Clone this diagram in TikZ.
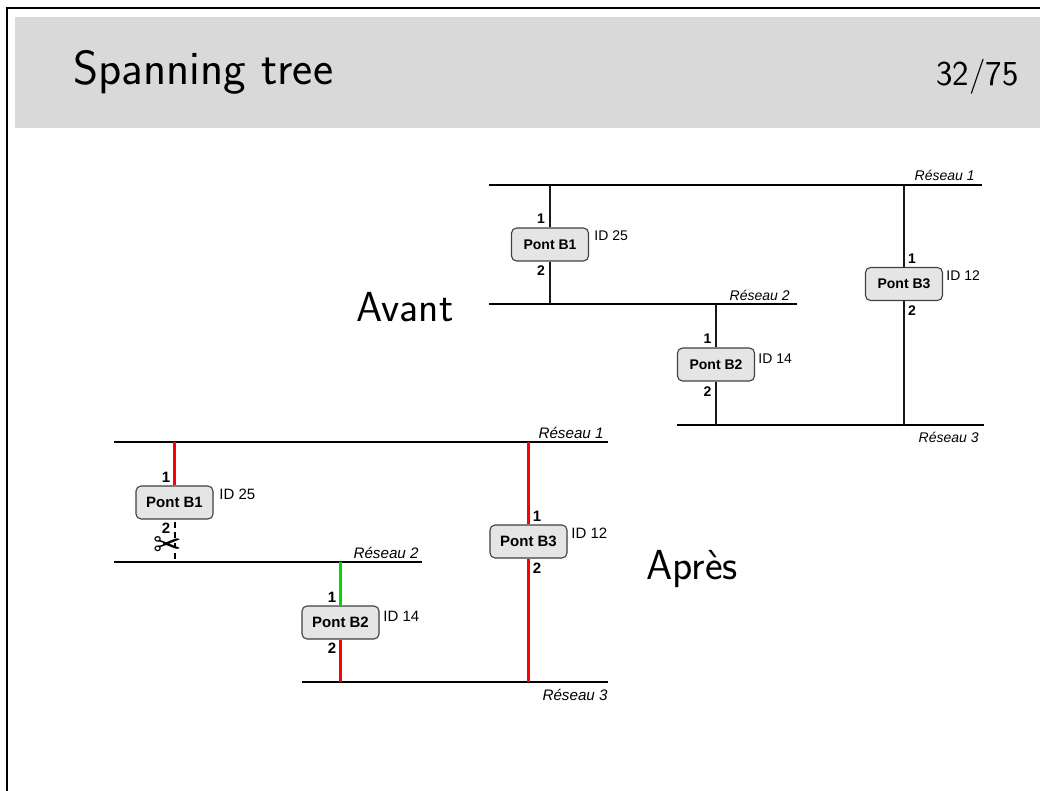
\documentclass[tikz,border=0pt]{standalone}
\usepackage{fontspec}
\setmainfont{Liberation Sans}
\newfontfamily\dejavu{DejaVu Sans}
\setsansfont{Latin Modern Sans}
\definecolor{headgray}{gray}{0.85}
\definecolor{boxgray}{gray}{0.9}
\definecolor{linkgreen}{rgb}{0,0.85,0}
\begin{document}
\begin{tikzpicture}[x=0.5pt, y=-0.5pt,
    bus/.style={line width=0.6pt},
    link/.style={line width=0.7pt, black!90},
    redlink/.style={line width=1.4pt, red},
    greenlink/.style={line width=1.4pt, linkgreen},
    pont/.style={draw=black!75, line width=0.55pt, fill=boxgray, rounded corners=2.5pt, minimum width=38.5pt, minimum height=16.5pt, inner sep=0pt, font=\fontsize{#1}{8}\selectfont\bfseries},
    port/.style={font=\fontsize{#1}{8}\selectfont\bfseries, inner sep=0pt},
    ident/.style={font=\fontsize{#1}{8}\selectfont, inner sep=0pt, anchor=west},
    reseau/.style={font=\fontsize{#1}{8}\selectfont\itshape, inner sep=0pt, anchor=east},
    big/.style={font=\sffamily\fontsize{21}{24}\selectfont, inner sep=0pt, anchor=base}]
        \useasboundingbox (0, 0) rectangle (1040, 791);

        \draw [line width=0.55pt] (1040, 8) -- (7, 8) -- (7, 791);
        \fill [headgray] (15, 17) rectangle (1040, 128);
        \node (title) at (73, 85) [anchor=base west, inner sep=0pt, font=\sffamily\fontsize{24}{28}\selectfont] {Spanning tree};
        \node (page) at (1019, 86) [anchor=base east, inner sep=0pt, font=\sffamily\fontsize{17.5}{20}\selectfont] {32/75};

        % Avant
        \node (avant) at (405, 322) [big] {Avant};
        \coordinate (aR1w) at (489, 185);
        \coordinate (aR1e) at (982, 185);
        \coordinate (aR2w) at (489, 304);
        \coordinate (aR2e) at (797, 304);
        \coordinate (aR3w) at (677, 425);
        \coordinate (aR3e) at (984, 425);
        \draw [bus] (aR1w) -- (aR1e);
        \draw [bus] (aR2w) -- (aR2e);
        \draw [bus] (aR3w) -- (aR3e);
        \node (aN1) at (975, 175) [reseau=7] {Réseau 1};
        \node (aN2) at (790, 295) [reseau=7] {Réseau 2};
        \node (aN3) at (979, 437) [reseau=7] {Réseau 3};

        \node (aB1) at (550, 244.5) [pont=7] {Pont B1};
        \node (aB2) at (716, 364.5) [pont=7] {Pont B2};
        \node (aB3) at (904, 284) [pont=7] {Pont B3};
        \draw [link] (aB1.north) -- (aB1.north |- aR1w);
        \draw [link] (aB1.south) -- (aB1.south |- aR2w);
        \draw [link] (aB2.north) -- (aB2.north |- aR2w);
        \draw [link] (aB2.south) -- (aB2.south |- aR3w);
        \draw [link] (aB3.north) -- (aB3.north |- aR1w);
        \draw [link] (aB3.south) -- (aB3.south |- aR3w);

        \node (aP11) at (541, 219) [port=7] {1};
        \node (aP12) at (541, 271) [port=7] {2};
        \node (aP21) at (707.5, 339) [port=7] {1};
        \node (aP22) at (707.5, 392) [port=7] {2};
        \node (aP31) at (912, 258.5) [port=7] {1};
        \node (aP32) at (912, 311) [port=7] {2};
        \node (aI1) at (594, 236) [ident=7] {ID 25};
        \node (aI2) at (758, 359) [ident=7] {ID 14};
        \node (aI3) at (946, 276) [ident=7] {ID 12};

        % Apres
        \node (apres) at (692, 579) [big] {Après};
        \coordinate (bR1w) at (114, 442);
        \coordinate (bR1e) at (608, 442);
        \coordinate (bR2w) at (114, 562);
        \coordinate (bR2e) at (422, 562);
        \coordinate (bR3w) at (302, 682);
        \coordinate (bR3e) at (608, 682);
        \draw [bus] (bR1w) -- (bR1e);
        \draw [bus] (bR2w) -- (bR2e);
        \draw [bus] (bR3w) -- (bR3e);
        \node (bN1) at (604, 433) [reseau=7.6] {Réseau 1};
        \node (bN2) at (419, 553) [reseau=7.6] {Réseau 2};
        \node (bN3) at (608, 695) [reseau=7.6] {Réseau 3};

        \node (bB1) at (174.5, 502.5) [pont=7.5] {Pont B1};
        \node (bB2) at (340.5, 622.5) [pont=7.5] {Pont B2};
        \node (bB3) at (528.5, 541.5) [pont=7.5] {Pont B3};
        \draw [redlink] (bB1.north) -- (bB1.north |- bR1w);
        \draw [line width=0.6pt, dash pattern=on 2.8pt off 2.4pt] (175, 522) -- (175, 562);
        \draw [greenlink] (bB2.north) -- (bB2.north |- bR2w);
        \draw [redlink] (bB2.south) -- (bB2.south |- bR3w);
        \draw [redlink] (bB3.north) -- (bB3.north |- bR1w);
        \draw [redlink] (bB3.south) -- (bB3.south |- bR3w);

        \node (bP11) at (166, 477) [port=7.5] {1};
        \node (bP12) at (166, 528) [port=7.5] {2};
        \node (bP21) at (332, 597) [port=7.5] {1};
        \node (bP22) at (332, 648) [port=7.5] {2};
        \node (bP31) at (537, 516) [port=7.5] {1};
        \node (bP32) at (537, 568) [port=7.5] {2};
        \node (bI1) at (219, 494) [ident=7.5] {ID 25};
        \node (bI2) at (383, 616) [ident=7.5] {ID 14};
        \node (bI3) at (571, 533) [ident=7.5] {ID 12};
        \node (cut) at (167.5, 546) [inner sep=0pt, font=\dejavu\fontsize{17}{17}\selectfont] {✂};
\end{tikzpicture}
\end{document}
